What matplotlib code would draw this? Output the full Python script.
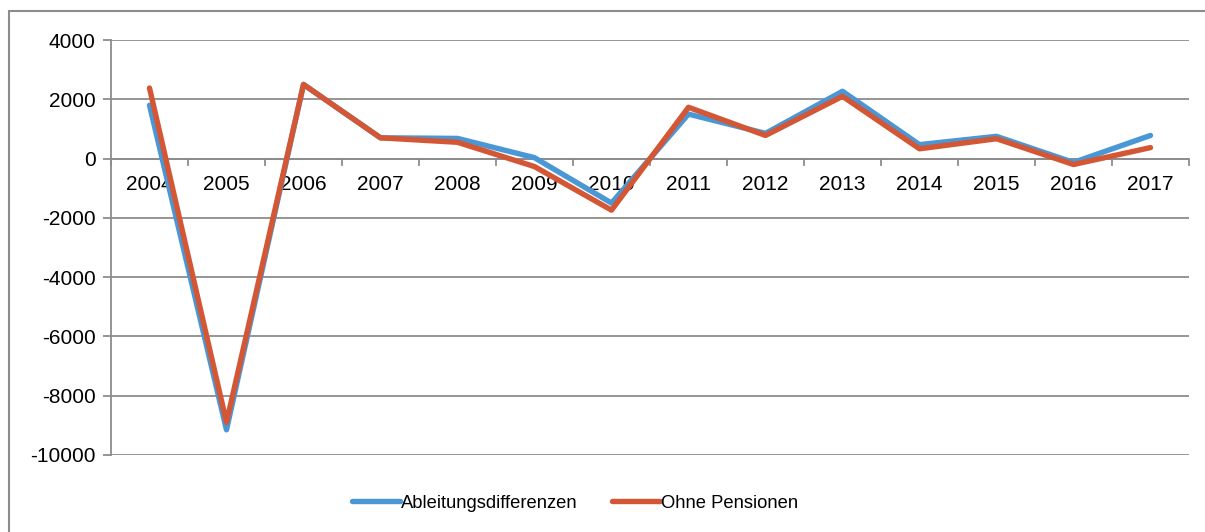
import matplotlib
matplotlib.use("Agg")
import matplotlib.pyplot as plt
from matplotlib.patches import Rectangle

plt.rcParams['font.family'] = ['Liberation Sans', 'DejaVu Sans']
plt.rcParams['axes.unicode_minus'] = False

years = ['2004', '2005', '2006', '2007', '2008', '2009', '2010',
         '2011', '2012', '2013', '2014', '2015', '2016', '2017']
ableitung = [1800, -9150, 2500, 700, 680, 30, -1500,
             1500, 850, 2270, 470, 750, -130, 780]
ohne_pens = [2380, -8900, 2500, 700, 550, -270, -1740,
             1730, 780, 2100, 330, 670, -200, 370]

blue = '#4A97D5'
red = '#D45735'
grid = '#8C8C8C'
fs = 15

fig = plt.figure(figsize=(12.05, 5.32), dpi=100)
# outer chart border
fig.patches.append(Rectangle((9 / 1205, -0.01), 1.0, 1 - 11 / 532 + 0.01,
                             transform=fig.transFigure, fill=False,
                             edgecolor=grid, linewidth=1.5))

ax = fig.add_axes([111 / 1205, 1 - 455 / 532, (1189 - 111) / 1205, (455 - 40) / 532])
x = list(range(len(years)))
ax.plot(x, ableitung, color=blue, linewidth=3.9, solid_capstyle='round',
        label='Ableitungsdifferenzen', zorder=3)
ax.plot(x, ohne_pens, color=red, linewidth=3.9, solid_capstyle='round',
        label='Ohne Pensionen', zorder=4)

ax.set_xlim(-0.5, len(years) - 0.5)
ax.set_ylim(-10000, 4000)
ax.set_yticks(range(-10000, 4001, 2000))
ax.yaxis.grid(True, color=grid, linewidth=1.3)
ax.set_axisbelow(True)
for s in ['top', 'right', 'bottom']:
    ax.spines[s].set_visible(False)
ax.spines['left'].set_color(grid)
ax.spines['left'].set_linewidth(1.3)
ax.tick_params(axis='y', length=6, width=1.3, color=grid, labelsize=fs, pad=5)

# category axis on the zero line, ticks between categories
ax.set_xticks([])
ax.axhline(0, color=grid, linewidth=1.3, zorder=2)
for b in range(len(years) + 1):
    ax.plot([b - 0.5, b - 0.5], [0, -230], color=grid, linewidth=1.3,
            clip_on=False, zorder=2)
for i, y in enumerate(years):
    ax.text(i, -880, y, ha='center', va='center', fontsize=fs, zorder=1)

leg = fig.legend(loc='center', bbox_to_anchor=(575 / 1205, 1 - 503 / 532), ncol=2,
                 frameon=False, fontsize=13.2, handlelength=2.6,
                 handletextpad=0.05, columnspacing=1.9)

fig.savefig('out.png', dpi=100)
